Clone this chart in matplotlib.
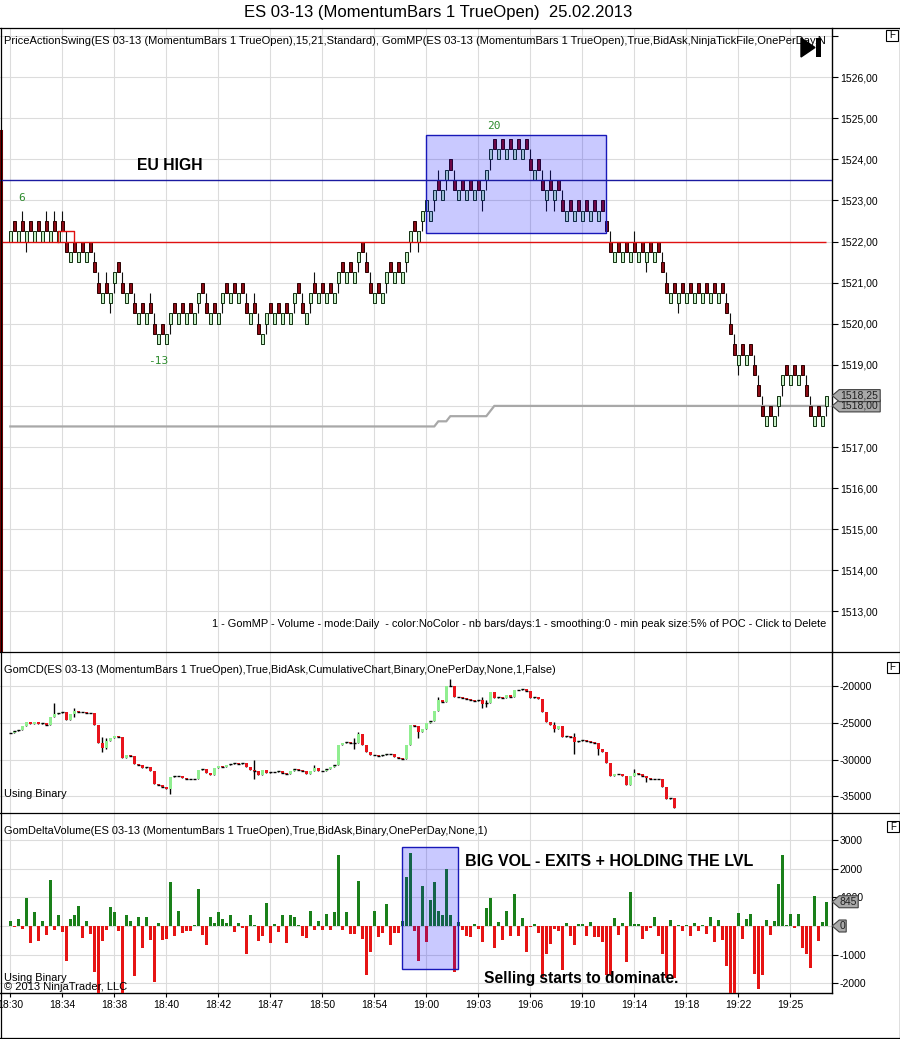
#!/usr/bin/env python3
# ES 03-13 momentum bars + GomCD + GomDeltaVolume, NinjaTrader style screenshot
import numpy as np
import matplotlib
matplotlib.use("Agg")
import matplotlib.pyplot as plt
from matplotlib.patches import Rectangle, Polygon
from matplotlib.lines import Line2D
from matplotlib.transforms import IdentityTransform

plt.rcParams['font.family'] = ['Liberation Sans', 'DejaVu Sans']

W, H = 900, 1039  # pixels

# ---- price panel ----
# body bottom of each momentum bar in ticks above 1517.00 (1 tick = 0.25, body = 1 tick)
body_ticks = [20,21,20,21,20,21,20,21,20,21,20,21,20,21,
              19,18,19,18,19,18,19,
              17,15,14,15,14,16,17,15,14,15,
              13,12,13,12,13,11,10,11,10,
              12,13,12,13,12,13,12,
              14,15,13,12,13,12,
              14,15,14,15,14,15,
              13,12,13,11,10,
              12,13,12,13,12,13,12,
              14,15,13,12,
              14,15,14,15,14,15,14,
              16,17,16,17,16,
              18,19,17,15,
              14,15,14,
              16,17,16,17,16,
              18,20,21,20,
              22,23,22,24,
              25,24,26,27,25,
              24,25,24,25,24,25,24,
              26,28,29,28,29,28,29,28,29,28,29,
              27,26,27,25,24,25,24,25,
              23,22,23,22,23,22,23,22,23,22,23,
              21,19,
              18,19,18,19,18,19,18,19,18,19,18,19,
              17,15,
              14,15,14,15,14,15,14,15,14,15,14,15,14,15,
              13,11,9,
              8,9,8,9,
              7,5,3,
              2,3,2,
              4,6,
              7,6,7,6,7,
              5,3,
              2,3,2,4]
bar_dir = ("GRGRGRGRGRGRGR" "RGRGRGR" "RRGRGGRRGR" "RGRGRRGRG" "GRGRGRG" "GRRGRG"
           "GRGRGR" "RGRRG" "GRGRGRG" "GRRG" "GRGRGRG" "GRGRG" "GRRR" "GRG" "GRGRG"
           "GGRG" "GGGG" "RGGRR" "GRGRGRG" "GGRGRGRGRGR" "RGRRGRGR" "RGRGRGRGRGR" "RR"
           "GRGRGRGRGRGR" "RR" "GRGRGRGRGRGRGR" "RRR" "GRGR" "RRR" "GRG" "GG" "RGRGR" "RR" "GRGG")
# bars with a one-tick wick above / below the body
wick_up = [3,9,11,13,14,21,22,24,28,31,35,36,49,59,61,62,73,76,89,90,107,111,130,133,
           135,138,150,156,163,164,179,180,181,186,187,188,199,200]
wick_down = [4,25,26,40,47,53,64,71,75,82,87,94,99,100,102,103,106,109,118,119,120,134,
             136,159,167,182,192,193,204]

eu_high = 1523.5
red_level = 1522.0
red_bump = (12, 16, 1522.25)       # short step in the red swing line
poc_k = [0, 106, 107, 109, 110, 119, 121, 204]
poc_v = [1517.5, 1517.5, 1517.625, 1517.625, 1517.75, 1517.75, 1518.0, 1518.0]
swing_labels = [(2.9, 1523.06, "6"), (36.9, 1519.09, "-13"), (120.9, 1524.81, "20")]
price_box = (104, 149, 1522.2, 1524.58)

# ---- cumulative delta panel ----
cd_close = [-26400,-26200,-26000,-25500,-24900,-25200,-24900,-25200,-25100,-25300,
            -24200,-23800,-23700,-23600,-24700,-23800,-23400,-23600,-23600,-23700,
            -23700,-25300,-27800,-28500,-27500,-27100,-26800,-27000,-29800,-29400,
            -29500,-30600,-30700,-31100,-31000,-31500,-33300,-33500,-33700,-34000,
            -32400,-32300,-32200,-32500,-32600,-32700,-32700,-31400,-31300,-31800,
            -32100,-31200,-30900,-31000,-30700,-30600,-30500,-30600,-30500,-31000,
            -31400,-31500,-32100,-31400,-31800,-31700,-31700,-31600,-31800,-31900,
            -31500,-31300,-31400,-31500,-31900,-31600,-31200,-31600,-31500,-31300,
            -31000,-30800,-28000,-27700,-27600,-27700,-27800,-26500,-28000,-29000,
            -29400,-29400,-29500,-29400,-29300,-29300,-29700,-29800,-29900,-28000,
            -25300,-25400,-26300,-25800,-25000,-24800,-23400,-22000,-22200,-20100,
            -20000,-21500,-21500,-21600,-21800,-22000,-22100,-22000,-22500,-22300,
            -20800,-21700,-21500,-21700,-21300,-21500,-20600,-20600,-20500,-20700,
            -21600,-21500,-21800,-23500,-24900,-25300,-25800,-25500,-26900,-26800,
            -27000,-27600,-27500,-27400,-27500,-27600,-27800,-28600,-29000,-30500,
            -32300,-32000,-32000,-32300,-33400,-32200,-31800,-32000,-32200,-32500,
            -32600,-32700,-32600,-33700,-35300,-35200,-36600]
cd_wick_k = [11, 16, 23, 24, 40, 61, 76, 86, 87, 102, 107, 110, 118, 119, 136, 141, 147, 156, 159]
cd_wick_lo = [-23980, -24210, -28960, -28510, -34620, -32580, -31450, -28510, -27600, -27150,
              -22000, -20100, -23080, -22850, -26240, -29190, -29410, -31800, -33030]
cd_wick_hi = [-22310, -23080, -26920, -27150, -32400, -30090, -30770, -27150, -26240, -25570,
              -21490, -19140, -21490, -21950, -24890, -26470, -28600, -31220, -32500]

# ---- delta volume panel ----
delta = [190,-40,260,-100,970,-600,490,-530,190,-310,
         1590,-150,400,-220,-1230,240,400,690,-430,160,
         -290,-1600,-2400,-510,-130,650,490,-190,-2400,400,
         160,-1750,330,-780,330,-500,-1960,90,-500,-450,
         1520,-360,540,-250,-190,-180,20,1280,-310,-670,
         330,100,490,250,110,380,-220,110,-60,-970,
         380,30,-540,-360,790,-600,60,-220,400,-600,
         400,330,20,-360,-430,540,-150,190,-130,430,
         -130,490,2490,-150,490,-290,-290,1570,-470,-1720,
         -910,540,-390,-250,760,-670,-250,-250,160,1710,
         2550,-180,-1230,1380,-570,890,1520,540,400,1970,
         400,-1600,150,-140,-340,-400,80,-100,-570,640,
         990,-770,150,-500,540,-360,1130,-360,290,-890,
         -50,80,-260,-1790,-960,-640,-100,-160,-1550,100,
         -360,-670,70,60,-340,150,-400,-400,-570,-1690,
         -1690,290,-330,100,-1270,1170,80,60,-470,-160,
         -70,310,-360,-960,-1810,220,-1810,20,-190,30,
         -360,100,-190,20,-290,310,-570,220,-500,-1410,
         -2400,-2400,470,-470,260,420,-1680,-2200,-1690,220,
         -330,190,1480,2460,30,410,-70,420,-760,-960,
         -1450,1030,-540,150,845]
delta_box = (98, 112, -1509, 2742)

times = ['18:30','18:34','18:38','18:40','18:42','18:47','18:50','18:54',
         '19:00','19:03','19:06','19:10','19:14','19:18','19:22','19:25']


fig = plt.figure(figsize=(W/100, H/100), dpi=100)

def rect(x0, y0, x1, y1):
  return [x0/W, 1 - y1/H, (x1-x0)/W, (y1-y0)/H]

def P(x, y):  # pixel (from top-left) -> display coords
  return (x, H - y)

ax_p = fig.add_axes(rect(0, 27.5, 831.7, 652.3))
ax_c = fig.add_axes(rect(0, 652.3, 831.7, 813.3))
ax_d = fig.add_axes(rect(0, 813.3, 831.7, 993.3))

n = len(body_ticks)
k = np.arange(n)
grid_k = np.arange(0, n, 13)

for ax in (ax_p, ax_c, ax_d):
  ax.set_xlim(-2.575, 205.35)
  ax.set_xticks(grid_k)
  ax.grid(True, color='#dcdcdc', lw=0.8)
  ax.set_axisbelow(True)
  for s in ('top', 'left', 'bottom'):
    ax.spines[s].set_visible(False)
  ax.spines['right'].set_linewidth(1.0)
  ax.yaxis.tick_right()
  ax.tick_params(axis='y', direction='out', length=4.3, width=0.8, labelsize=7.5, pad=1.5)
  ax.tick_params(axis='x', length=0, labelbottom=False)

# price bars
lo = 1517 + 0.25*np.array(body_ticks)
is_up = np.array([c == 'G' for c in bar_dir])
w_lo = lo.copy()
w_hi = lo + 0.25
w_hi[wick_up] += 0.25
w_lo[wick_down] -= 0.25
ax_p.vlines(k, w_lo, w_hi, color='#101010', lw=0.8, zorder=2)
ax_p.bar(k, 0.25, bottom=lo, width=0.62,
         color=np.where(is_up, '#c6efc6', '#8b0a14'),
         edgecolor=np.where(is_up, '#0f2f0f', '#2a0000'), linewidth=0.7, zorder=3)

ax_p.plot(poc_k, poc_v, color='#a8a8a8', lw=1.6, zorder=2)
ax_p.hlines(red_level, -2.575, n-1, color='#e01010', lw=1.0, zorder=4)
b0, b1, bv = red_bump
ax_p.plot([b0, b0, b1, b1], [red_level, bv, bv, red_level], color='#e01010', lw=1.0, zorder=4)
ax_p.plot([-2.3, -2.3], [1512.0, 1524.7], color='#7a0000', lw=2.2, zorder=4)
x0, x1, y0, y1 = price_box
ax_p.add_patch(Rectangle((x0, y0), x1-x0, y1-y0, facecolor=(0, 0, 1, 0.21),
                         edgecolor='#1818b8', lw=1.0, zorder=5))
ax_p.axhline(eu_high, color='#1a1aa0', lw=1.0, zorder=6)
for sx, sy, st in swing_labels:
  ax_p.text(sx, sy, st, color='#2d8b2d', fontsize=8, family='DejaVu Sans Mono',
            ha='center', va='center')
ax_p.set_ylim(1512.005, 1527.207)
pt = np.arange(1513, 1528)
ax_p.set_yticks(pt)
ax_p.set_yticklabels([f"{v},00" if v < 1527 else "" for v in pt])

# cumulative delta candles
nc = len(cd_close)
kc = np.arange(nc)
cc = np.array(cd_close, dtype=float)
oc = np.concatenate([[cc[0]], cc[:-1]])
c_lo = np.minimum(oc, cc)
c_hi = np.maximum(oc, cc)
for i, wl, wh in zip(cd_wick_k, cd_wick_lo, cd_wick_hi):
  c_lo[i] = min(c_lo[i], wl)
  c_hi[i] = max(c_hi[i], wh)
ax_c.vlines(kc, c_lo, c_hi, color='black', lw=1.0, zorder=2)
ax_c.bar(kc, cc - oc, bottom=oc, width=0.8,
         color=np.where(cc >= oc, '#90ee90', '#e8141c'), zorder=3)
doji = np.abs(cc - oc) <= 200
ax_c.hlines(cc[doji], kc[doji]-0.45, kc[doji]+0.45, color='black', lw=1.0, zorder=4)
ax_c.set_ylim(-37290, -15474)
ct = [-35000, -30000, -25000, -20000]
ax_c.set_yticks(ct)
ax_c.set_yticklabels([str(v) for v in ct])

# delta volume bars
dv = np.array(delta)
ax_d.bar(k, dv, width=0.72, color=np.where(dv >= 0, '#1a801a', '#e61414'), zorder=3)
x0, x1, y0, y1 = delta_box
ax_d.add_patch(Rectangle((x0, y0), x1-x0, y1-y0, facecolor=(0, 0, 1, 0.21),
                         edgecolor='#1818b8', lw=1.0, zorder=5))
ax_d.set_ylim(-2345, 3927)
dt = [-2000, -1000, 0, 1000, 2000, 3000]
ax_d.set_yticks(dt)
ax_d.set_yticklabels([str(v) for v in dt])
ax_d.spines['bottom'].set_visible(True)
ax_d.spines['bottom'].set_linewidth(1.0)
ax_d.tick_params(axis='x', length=3, width=0.8, labelbottom=True, labelsize=7.5, pad=2)
ax_d.set_xticklabels(times)

# frame lines
for y in (27.5, 652.3, 813.3, 1037.5):
  fig.add_artist(Line2D([0, 900], [H-y, H-y], transform=IdentityTransform(), color='black', lw=0.9))
for x in (0.5, 899.5):
  fig.add_artist(Line2D([x, x], [H-27.5, H-1037.5], transform=IdentityTransform(), color='black', lw=0.9))

# "F" boxes
for (fx0, fy0) in ((886, 30), (886.5, 661.5), (887, 821)):
  fig.add_artist(Rectangle(P(fx0, fy0+11), 12, 11, transform=IdentityTransform(),
                           facecolor='white', edgecolor='black', lw=0.8, zorder=6))
  fig.text((fx0+6)/W, 1-(fy0+5.5)/H, "F", fontsize=7, ha='center', va='center', zorder=7)

# play-to-end icon
fig.add_artist(Polygon([P(801, 38), P(801, 57), P(815, 47.5)], transform=IdentityTransform(),
                       facecolor='black', edgecolor='black', zorder=8))
fig.add_artist(Rectangle(P(816, 57), 5, 19, transform=IdentityTransform(),
                         facecolor='black', edgecolor='none', zorder=8))

# last value tags
def tag(ax, val, text, width):
  y = ax.transData.transform((0, val))[1]
  x0 = ax.transAxes.transform((1, 0))[0] + 0.5
  pts = [(x0, y), (x0+7, y+6), (x0+width, y+6), (x0+width, y-6), (x0+7, y-6)]
  fig.add_artist(Polygon(pts, closed=True, facecolor='#a9a9a9', edgecolor='#404040', lw=0.8,
                         transform=IdentityTransform(), zorder=9))
  fig.text((x0+6+(width-6)/2)/W, y/H, text, fontsize=7.5, color='#202020',
           ha='center', va='center', zorder=10)

tag(ax_p, 1518.0, "1518,00", 48)
tag(ax_p, 1518.25, "1518,25", 48)
tag(ax_d, 845, "845", 26)
tag(ax_d, 0, "0", 14)

# texts (x, y in pixels from top-left)
def T(x, y, s, **kw):
  return fig.text(x/W, 1 - y/H, s, **kw)

fits = []
fits.append((T(438, 13, "ES 03-13 (MomentumBars 1 TrueOpen)  25.02.2013", fontsize=12,
               ha='center', va='center'), 388))
fits.append((T(4, 41, "PriceActionSwing(ES 03-13 (MomentumBars 1 TrueOpen),15,21,Standard), "
               "GomMP(ES 03-13 (MomentumBars 1 TrueOpen),True,BidAsk,NinjaTickFile,OnePerDay,N",
               fontsize=8, va='center'), 826))
fits.append((T(826, 624, "1 - GomMP - Volume - mode:Daily  - color:NoColor - nb bars/days:1 - "
               "smoothing:0 - min peak size:5% of POC - Click to Delete",
               fontsize=8, ha='right', va='center'), 619))
fits.append((T(4, 670, "GomCD(ES 03-13 (MomentumBars 1 TrueOpen),True,BidAsk,CumulativeChart,"
               "Binary,OnePerDay,None,1,False)", fontsize=8, va='center'), 553))
fits.append((T(4, 794, "Using Binary", fontsize=8, va='center'), 63))
fits.append((T(4, 831, "GomDeltaVolume(ES 03-13 (MomentumBars 1 TrueOpen),True,BidAsk,Binary,"
               "OnePerDay,None,1)", fontsize=8, va='center'), 485))
fits.append((T(4, 978, "Using Binary", fontsize=8, va='center'), 63))
fits.append((T(4, 987.5, "\u00a9 2013 NinjaTrader, LLC", fontsize=8, va='center'), 123))
fits.append((T(137, 165, "EU HIGH", fontsize=11.4, weight='bold', va='center'), 66))
fits.append((T(465, 862, "BIG VOL - EXITS + HOLDING THE LVL", fontsize=11.5, weight='bold',
               va='center'), 289))
fits.append((T(484, 978, "Selling starts to dominate.", fontsize=11.3, weight='bold',
               va='center'), 196))

r = fig.canvas.get_renderer()
for t, target in fits:
  w = t.get_window_extent(r).width
  t.set_fontsize(t.get_fontsize() * target / w)

fig.savefig("out.png", dpi=100, facecolor='white')
